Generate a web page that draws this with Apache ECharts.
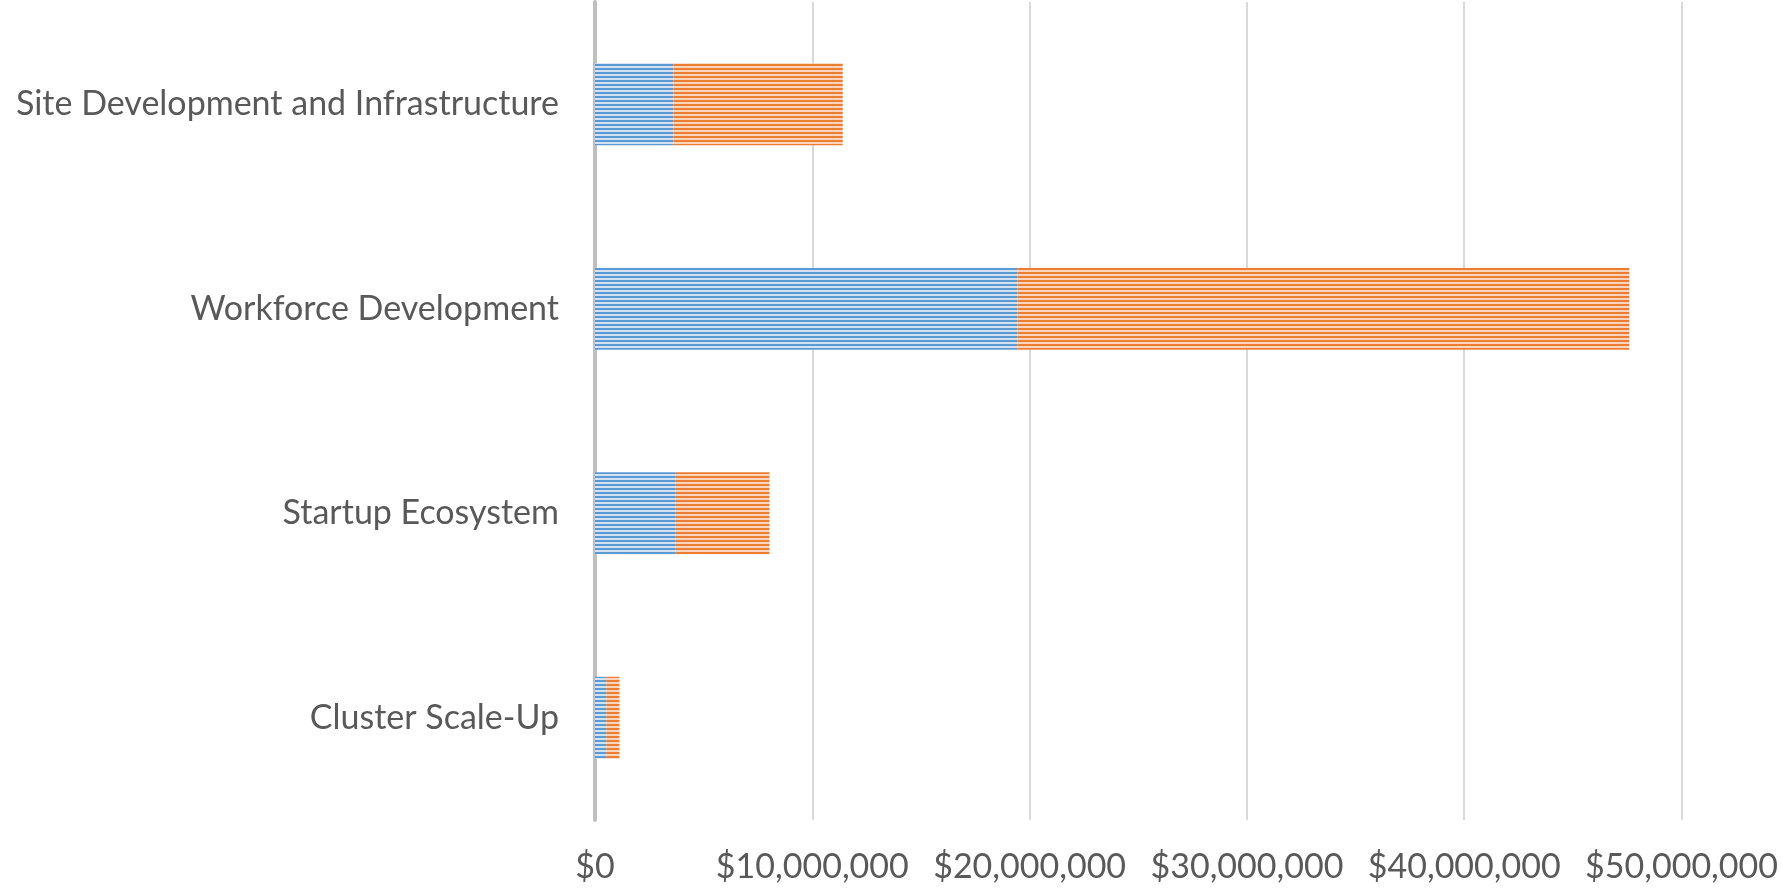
<!DOCTYPE html>
<html>
<head>
<meta charset="utf-8">
<script src="https://cdn.jsdelivr.net/npm/echarts@6/dist/echarts.min.js"></script>
<style>
  html, body { margin: 0; padding: 0; background: #fff; }
  #chart { width: 1781px; height: 889px; }
</style>
</head>
<body>
<div id="chart"></div>
<script>
// stacked horizontal bars, two funding parts per program area
const categories = [
  "Site Development and Infrastructure",
  "Workforce Development",
  "Startup Ecosystem",
  "Cluster Scale-Up",
];
const partA = [3600000, 19430000, 3720000, 510000];   // blue
const partB = [7800000, 28170000, 4310000, 620000];   // orange
const xTicks = [0, 10000000, 20000000, 30000000, 40000000, 50000000];

const FONT = "Lato, 'Open Sans', sans-serif";
const TEXT = "#595959";

// Excel-style horizontal stripe fill
function stripes(fg, bg) {
  const c = document.createElement("canvas");
  c.width = 4; c.height = 4;
  const ctx = c.getContext("2d");
  ctx.fillStyle = bg; ctx.fillRect(0, 0, 4, 4);
  ctx.fillStyle = fg; ctx.fillRect(0, 0, 4, 2);
  return { image: c, repeat: "repeat" };
}

const money = (v) => "$" + v.toLocaleString("en-US");

const chart = echarts.init(document.getElementById("chart"));
chart.setOption({
  animation: false,
  grid: { left: 595, right: 98, top: 2, bottom: 69, containLabel: false },
  xAxis: {
    type: "value",
    min: xTicks[0],
    max: xTicks[xTicks.length - 1],
    interval: xTicks[1] - xTicks[0],
    axisLine: { show: false },
    axisTick: { show: false },
    axisLabel: { color: TEXT, fontFamily: FONT, fontSize: 34, margin: 30, formatter: money },
    splitLine: { lineStyle: { color: "#d9d9d9", width: 2 } },
  },
  yAxis: {
    type: "category",
    inverse: true,
    data: categories,
    axisLine: { show: true, lineStyle: { color: "#bfbfbf", width: 4 } },
    axisTick: { show: false },
    axisLabel: { color: TEXT, fontFamily: FONT, fontSize: 34, margin: 36 },
  },
  series: [
    {
      type: "bar",
      stack: "total",
      barCategoryGap: "60%",
      itemStyle: { color: stripes("#5b9bd5", "#d3e1f0") },
      data: partA,
    },
    {
      type: "bar",
      stack: "total",
      barCategoryGap: "60%",
      itemStyle: { color: stripes("#ed7d31", "#f8d5bc") },
      data: partB,
    },
  ],
});
</script>
</body>
</html>
